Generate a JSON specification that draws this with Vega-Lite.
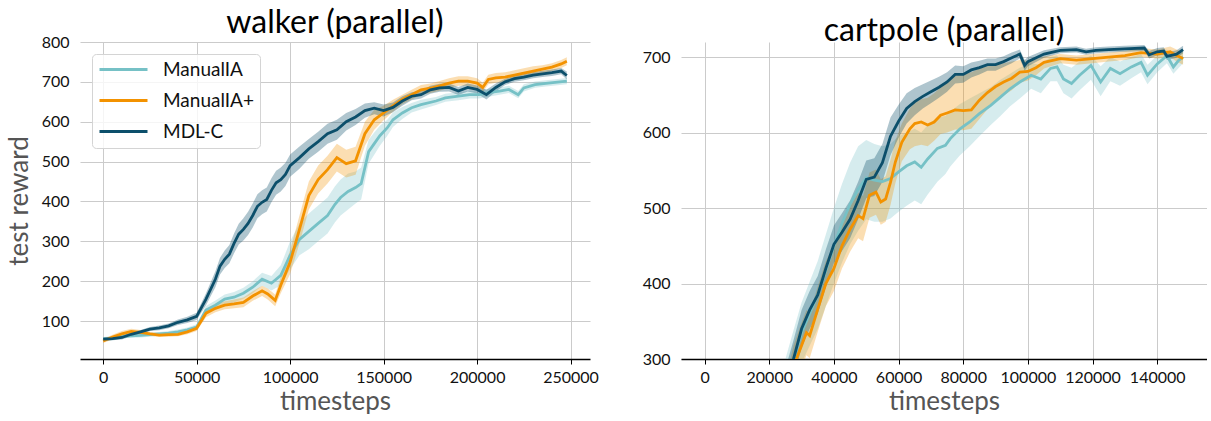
{
"$schema": "https://vega.github.io/schema/vega-lite/v6.json",
"autosize": {"type": "pad"},
"padding": {"left": 6, "top": 7, "right": 0, "bottom": 0},
"background": "white",
"config": {
  "view": {"stroke": null},
  "font": "Lato",
  "title": {"font": "Lato", "fontSize": 32, "fontWeight": "normal", "color": "#000", "baseline": "bottom", "offset": -6},
  "axis": {"labelFont": "Lato", "labelFontSize": 16, "labelColor": "#111", "titleFont": "Lato", "titleFontSize": 26, "titleFontWeight": "normal", "titleColor": "#555", "gridColor": "#cbcbcb", "gridWidth": 1},
  "axisX": {"domain": true, "domainColor": "#000", "domainWidth": 1.5, "ticks": true, "tickSize": 5, "tickColor": "#000", "labelPadding": 5, "titlePadding": 3, "labelFlush": false},
  "axisY": {"domain": false, "ticks": false, "labelPadding": 11},
  "legend": {"orient": "none", "legendX": 12, "legendY": 12, "title": null, "symbolType": "M-1,0H5", "symbolSize": 256, "symbolStrokeWidth": 3,
             "labelFont": "Lato", "labelFontSize": 19, "labelColor": "#111", "labelOffset": 46, "padding": 6, "rowPadding": 11,
             "strokeColor": "#d4d4d4", "fillColor": "rgba(255,255,255,0.8)", "cornerRadius": 4, "labelLimit": 300}
},
"datasets": {
 "walker": [
  {"s":"ManualIA","t":0,"m":55,"lo":50,"hi":60},
  {"s":"ManualIA","t":5000,"m":57,"lo":52,"hi":62},
  {"s":"ManualIA","t":10000,"m":62,"lo":57,"hi":67},
  {"s":"ManualIA","t":15000,"m":63,"lo":58,"hi":68},
  {"s":"ManualIA","t":20000,"m":64,"lo":59,"hi":69},
  {"s":"ManualIA","t":25000,"m":66,"lo":61,"hi":71},
  {"s":"ManualIA","t":30000,"m":68,"lo":63,"hi":73},
  {"s":"ManualIA","t":35000,"m":70,"lo":65,"hi":75},
  {"s":"ManualIA","t":40000,"m":73,"lo":67,"hi":79},
  {"s":"ManualIA","t":45000,"m":78,"lo":72,"hi":84},
  {"s":"ManualIA","t":50000,"m":85,"lo":78,"hi":92},
  {"s":"ManualIA","t":55000,"m":128,"lo":118,"hi":138},
  {"s":"ManualIA","t":60000,"m":140,"lo":128,"hi":152},
  {"s":"ManualIA","t":65000,"m":155,"lo":143,"hi":167},
  {"s":"ManualIA","t":70000,"m":160,"lo":147,"hi":173},
  {"s":"ManualIA","t":75000,"m":170,"lo":156,"hi":184},
  {"s":"ManualIA","t":80000,"m":185,"lo":170,"hi":200},
  {"s":"ManualIA","t":85000,"m":205,"lo":189,"hi":221},
  {"s":"ManualIA","t":90000,"m":195,"lo":177,"hi":213},
  {"s":"ManualIA","t":95000,"m":215,"lo":190,"hi":240},
  {"s":"ManualIA","t":100000,"m":265,"lo":230,"hi":300},
  {"s":"ManualIA","t":105000,"m":305,"lo":265,"hi":345},
  {"s":"ManualIA","t":110000,"m":325,"lo":280,"hi":370},
  {"s":"ManualIA","t":115000,"m":345,"lo":300,"hi":390},
  {"s":"ManualIA","t":120000,"m":365,"lo":320,"hi":410},
  {"s":"ManualIA","t":124000,"m":393,"lo":348,"hi":438},
  {"s":"ManualIA","t":127000,"m":410,"lo":365,"hi":455},
  {"s":"ManualIA","t":131000,"m":425,"lo":380,"hi":470},
  {"s":"ManualIA","t":135000,"m":435,"lo":395,"hi":475},
  {"s":"ManualIA","t":138000,"m":445,"lo":405,"hi":485},
  {"s":"ManualIA","t":142000,"m":525,"lo":495,"hi":555},
  {"s":"ManualIA","t":145000,"m":545,"lo":517,"hi":573},
  {"s":"ManualIA","t":148000,"m":565,"lo":540,"hi":590},
  {"s":"ManualIA","t":152000,"m":585,"lo":565,"hi":605},
  {"s":"ManualIA","t":155000,"m":605,"lo":587,"hi":623},
  {"s":"ManualIA","t":160000,"m":622,"lo":607,"hi":637},
  {"s":"ManualIA","t":165000,"m":635,"lo":623,"hi":647},
  {"s":"ManualIA","t":170000,"m":643,"lo":631,"hi":655},
  {"s":"ManualIA","t":178000,"m":652,"lo":642,"hi":662},
  {"s":"ManualIA","t":183000,"m":660,"lo":650,"hi":670},
  {"s":"ManualIA","t":190000,"m":664,"lo":654,"hi":674},
  {"s":"ManualIA","t":196000,"m":668,"lo":658,"hi":678},
  {"s":"ManualIA","t":201000,"m":668,"lo":658,"hi":678},
  {"s":"ManualIA","t":206000,"m":673,"lo":663,"hi":683},
  {"s":"ManualIA","t":212000,"m":677,"lo":668,"hi":686},
  {"s":"ManualIA","t":217000,"m":681,"lo":672,"hi":690},
  {"s":"ManualIA","t":222000,"m":668,"lo":659,"hi":677},
  {"s":"ManualIA","t":225000,"m":685,"lo":676,"hi":694},
  {"s":"ManualIA","t":231000,"m":693,"lo":685,"hi":701},
  {"s":"ManualIA","t":238000,"m":697,"lo":689,"hi":705},
  {"s":"ManualIA","t":248000,"m":702,"lo":694,"hi":710},
  {"s":"ManualIA+","t":0,"m":50,"lo":45,"hi":55},
  {"s":"ManualIA+","t":5000,"m":60,"lo":54,"hi":66},
  {"s":"ManualIA+","t":10000,"m":68,"lo":61,"hi":75},
  {"s":"ManualIA+","t":15000,"m":74,"lo":67,"hi":81},
  {"s":"ManualIA+","t":20000,"m":72,"lo":66,"hi":78},
  {"s":"ManualIA+","t":25000,"m":68,"lo":63,"hi":73},
  {"s":"ManualIA+","t":30000,"m":65,"lo":60,"hi":70},
  {"s":"ManualIA+","t":35000,"m":66,"lo":61,"hi":71},
  {"s":"ManualIA+","t":40000,"m":67,"lo":62,"hi":72},
  {"s":"ManualIA+","t":45000,"m":73,"lo":67,"hi":79},
  {"s":"ManualIA+","t":50000,"m":82,"lo":75,"hi":89},
  {"s":"ManualIA+","t":55000,"m":120,"lo":110,"hi":130},
  {"s":"ManualIA+","t":60000,"m":132,"lo":122,"hi":142},
  {"s":"ManualIA+","t":65000,"m":140,"lo":130,"hi":150},
  {"s":"ManualIA+","t":70000,"m":143,"lo":132,"hi":154},
  {"s":"ManualIA+","t":75000,"m":147,"lo":135,"hi":159},
  {"s":"ManualIA+","t":80000,"m":163,"lo":151,"hi":175},
  {"s":"ManualIA+","t":85000,"m":176,"lo":163,"hi":189},
  {"s":"ManualIA+","t":88000,"m":168,"lo":154,"hi":182},
  {"s":"ManualIA+","t":92000,"m":152,"lo":137,"hi":167},
  {"s":"ManualIA+","t":95000,"m":190,"lo":170,"hi":210},
  {"s":"ManualIA+","t":100000,"m":248,"lo":218,"hi":278},
  {"s":"ManualIA+","t":105000,"m":330,"lo":295,"hi":365},
  {"s":"ManualIA+","t":110000,"m":415,"lo":380,"hi":450},
  {"s":"ManualIA+","t":115000,"m":455,"lo":420,"hi":490},
  {"s":"ManualIA+","t":120000,"m":480,"lo":445,"hi":515},
  {"s":"ManualIA+","t":125000,"m":510,"lo":475,"hi":545},
  {"s":"ManualIA+","t":130000,"m":495,"lo":460,"hi":530},
  {"s":"ManualIA+","t":135000,"m":502,"lo":467,"hi":537},
  {"s":"ManualIA+","t":140000,"m":570,"lo":540,"hi":600},
  {"s":"ManualIA+","t":145000,"m":605,"lo":580,"hi":630},
  {"s":"ManualIA+","t":150000,"m":622,"lo":604,"hi":640},
  {"s":"ManualIA+","t":155000,"m":640,"lo":625,"hi":655},
  {"s":"ManualIA+","t":160000,"m":656,"lo":644,"hi":668},
  {"s":"ManualIA+","t":165000,"m":668,"lo":656,"hi":680},
  {"s":"ManualIA+","t":170000,"m":680,"lo":668,"hi":692},
  {"s":"ManualIA+","t":175000,"m":684,"lo":672,"hi":696},
  {"s":"ManualIA+","t":180000,"m":690,"lo":678,"hi":702},
  {"s":"ManualIA+","t":185000,"m":697,"lo":685,"hi":709},
  {"s":"ManualIA+","t":190000,"m":702,"lo":690,"hi":714},
  {"s":"ManualIA+","t":195000,"m":702,"lo":690,"hi":714},
  {"s":"ManualIA+","t":200000,"m":697,"lo":685,"hi":709},
  {"s":"ManualIA+","t":203000,"m":686,"lo":674,"hi":698},
  {"s":"ManualIA+","t":206000,"m":706,"lo":694,"hi":718},
  {"s":"ManualIA+","t":210000,"m":710,"lo":698,"hi":722},
  {"s":"ManualIA+","t":215000,"m":712,"lo":700,"hi":724},
  {"s":"ManualIA+","t":220000,"m":717,"lo":705,"hi":729},
  {"s":"ManualIA+","t":225000,"m":722,"lo":710,"hi":734},
  {"s":"ManualIA+","t":230000,"m":727,"lo":715,"hi":739},
  {"s":"ManualIA+","t":235000,"m":732,"lo":722,"hi":742},
  {"s":"ManualIA+","t":240000,"m":737,"lo":727,"hi":747},
  {"s":"ManualIA+","t":245000,"m":745,"lo":735,"hi":755},
  {"s":"ManualIA+","t":248000,"m":752,"lo":742,"hi":762},
  {"s":"MDL-C","t":0,"m":55,"lo":51,"hi":59},
  {"s":"MDL-C","t":5000,"m":56,"lo":52,"hi":60},
  {"s":"MDL-C","t":10000,"m":59,"lo":54,"hi":64},
  {"s":"MDL-C","t":15000,"m":67,"lo":62,"hi":72},
  {"s":"MDL-C","t":20000,"m":73,"lo":68,"hi":78},
  {"s":"MDL-C","t":25000,"m":80,"lo":75,"hi":85},
  {"s":"MDL-C","t":30000,"m":83,"lo":77,"hi":89},
  {"s":"MDL-C","t":35000,"m":88,"lo":82,"hi":94},
  {"s":"MDL-C","t":40000,"m":97,"lo":90,"hi":104},
  {"s":"MDL-C","t":45000,"m":103,"lo":95,"hi":111},
  {"s":"MDL-C","t":50000,"m":112,"lo":103,"hi":121},
  {"s":"MDL-C","t":55000,"m":155,"lo":140,"hi":170},
  {"s":"MDL-C","t":60000,"m":205,"lo":185,"hi":225},
  {"s":"MDL-C","t":62500,"m":238,"lo":217,"hi":259},
  {"s":"MDL-C","t":65000,"m":255,"lo":233,"hi":277},
  {"s":"MDL-C","t":67500,"m":268,"lo":245,"hi":291},
  {"s":"MDL-C","t":70000,"m":295,"lo":270,"hi":320},
  {"s":"MDL-C","t":72500,"m":318,"lo":292,"hi":344},
  {"s":"MDL-C","t":75000,"m":330,"lo":302,"hi":358},
  {"s":"MDL-C","t":77500,"m":345,"lo":316,"hi":374},
  {"s":"MDL-C","t":80000,"m":365,"lo":335,"hi":395},
  {"s":"MDL-C","t":82500,"m":388,"lo":358,"hi":418},
  {"s":"MDL-C","t":85000,"m":398,"lo":368,"hi":428},
  {"s":"MDL-C","t":87500,"m":405,"lo":375,"hi":435},
  {"s":"MDL-C","t":90000,"m":428,"lo":398,"hi":458},
  {"s":"MDL-C","t":92500,"m":447,"lo":417,"hi":477},
  {"s":"MDL-C","t":95000,"m":455,"lo":425,"hi":485},
  {"s":"MDL-C","t":97500,"m":468,"lo":439,"hi":497},
  {"s":"MDL-C","t":100000,"m":490,"lo":462,"hi":518},
  {"s":"MDL-C","t":105000,"m":510,"lo":482,"hi":538},
  {"s":"MDL-C","t":110000,"m":532,"lo":507,"hi":557},
  {"s":"MDL-C","t":115000,"m":550,"lo":525,"hi":575},
  {"s":"MDL-C","t":120000,"m":570,"lo":545,"hi":595},
  {"s":"MDL-C","t":125000,"m":580,"lo":555,"hi":605},
  {"s":"MDL-C","t":130000,"m":600,"lo":578,"hi":622},
  {"s":"MDL-C","t":135000,"m":612,"lo":592,"hi":632},
  {"s":"MDL-C","t":140000,"m":628,"lo":610,"hi":646},
  {"s":"MDL-C","t":145000,"m":634,"lo":619,"hi":649},
  {"s":"MDL-C","t":150000,"m":628,"lo":613,"hi":643},
  {"s":"MDL-C","t":155000,"m":636,"lo":624,"hi":648},
  {"s":"MDL-C","t":160000,"m":652,"lo":640,"hi":664},
  {"s":"MDL-C","t":165000,"m":664,"lo":654,"hi":674},
  {"s":"MDL-C","t":170000,"m":668,"lo":658,"hi":678},
  {"s":"MDL-C","t":175000,"m":680,"lo":670,"hi":690},
  {"s":"MDL-C","t":180000,"m":685,"lo":675,"hi":695},
  {"s":"MDL-C","t":185000,"m":686,"lo":676,"hi":696},
  {"s":"MDL-C","t":190000,"m":677,"lo":667,"hi":687},
  {"s":"MDL-C","t":195000,"m":686,"lo":676,"hi":696},
  {"s":"MDL-C","t":200000,"m":681,"lo":671,"hi":691},
  {"s":"MDL-C","t":205000,"m":668,"lo":656,"hi":680},
  {"s":"MDL-C","t":210000,"m":686,"lo":676,"hi":696},
  {"s":"MDL-C","t":215000,"m":700,"lo":692,"hi":708},
  {"s":"MDL-C","t":220000,"m":708,"lo":700,"hi":716},
  {"s":"MDL-C","t":225000,"m":712,"lo":704,"hi":720},
  {"s":"MDL-C","t":230000,"m":717,"lo":709,"hi":725},
  {"s":"MDL-C","t":235000,"m":720,"lo":712,"hi":728},
  {"s":"MDL-C","t":240000,"m":723,"lo":715,"hi":731},
  {"s":"MDL-C","t":245000,"m":727,"lo":719,"hi":735},
  {"s":"MDL-C","t":248000,"m":716,"lo":706,"hi":726}
 ],
 "cartpole": [
  {"s":"ManualIA","t":0,"m":15,"lo":0,"hi":30},
  {"s":"ManualIA","t":10000,"m":85,"lo":60,"hi":110},
  {"s":"ManualIA","t":20000,"m":190,"lo":160,"hi":220},
  {"s":"ManualIA","t":25000,"m":262,"lo":225,"hi":300},
  {"s":"ManualIA","t":27500,"m":298,"lo":258,"hi":338},
  {"s":"ManualIA","t":30000,"m":335,"lo":295,"hi":375},
  {"s":"ManualIA","t":35000,"m":385,"lo":340,"hi":430},
  {"s":"ManualIA","t":40000,"m":450,"lo":400,"hi":500},
  {"s":"ManualIA","t":42500,"m":480,"lo":428,"hi":532},
  {"s":"ManualIA","t":45000,"m":505,"lo":452,"hi":560},
  {"s":"ManualIA","t":47500,"m":525,"lo":470,"hi":582},
  {"s":"ManualIA","t":50000,"m":540,"lo":485,"hi":590},
  {"s":"ManualIA","t":52500,"m":537,"lo":482,"hi":585},
  {"s":"ManualIA","t":55000,"m":535,"lo":482,"hi":582},
  {"s":"ManualIA","t":57500,"m":539,"lo":486,"hi":585},
  {"s":"ManualIA","t":60000,"m":548,"lo":495,"hi":595},
  {"s":"ManualIA","t":62500,"m":556,"lo":503,"hi":600},
  {"s":"ManualIA","t":65000,"m":561,"lo":510,"hi":605},
  {"s":"ManualIA","t":67000,"m":554,"lo":505,"hi":600},
  {"s":"ManualIA","t":69000,"m":565,"lo":518,"hi":610},
  {"s":"ManualIA","t":72000,"m":579,"lo":535,"hi":620},
  {"s":"ManualIA","t":74500,"m":583,"lo":545,"hi":622},
  {"s":"ManualIA","t":76000,"m":592,"lo":555,"hi":628},
  {"s":"ManualIA","t":79000,"m":605,"lo":570,"hi":638},
  {"s":"ManualIA","t":82000,"m":614,"lo":582,"hi":645},
  {"s":"ManualIA","t":85000,"m":625,"lo":595,"hi":652},
  {"s":"ManualIA","t":88500,"m":636,"lo":610,"hi":660},
  {"s":"ManualIA","t":91500,"m":647,"lo":622,"hi":670},
  {"s":"ManualIA","t":94500,"m":658,"lo":635,"hi":678},
  {"s":"ManualIA","t":97500,"m":667,"lo":645,"hi":686},
  {"s":"ManualIA","t":101000,"m":676,"lo":658,"hi":692},
  {"s":"ManualIA","t":104000,"m":671,"lo":652,"hi":690},
  {"s":"ManualIA","t":107000,"m":685,"lo":668,"hi":700},
  {"s":"ManualIA","t":109000,"m":687,"lo":668,"hi":702},
  {"s":"ManualIA","t":111000,"m":671,"lo":652,"hi":690},
  {"s":"ManualIA","t":113500,"m":665,"lo":645,"hi":686},
  {"s":"ManualIA","t":116000,"m":676,"lo":656,"hi":694},
  {"s":"ManualIA","t":119500,"m":689,"lo":670,"hi":702},
  {"s":"ManualIA","t":122500,"m":667,"lo":648,"hi":688},
  {"s":"ManualIA","t":125500,"m":685,"lo":668,"hi":700},
  {"s":"ManualIA","t":128500,"m":678,"lo":662,"hi":694},
  {"s":"ManualIA","t":132000,"m":687,"lo":672,"hi":700},
  {"s":"ManualIA","t":135000,"m":693,"lo":680,"hi":704},
  {"s":"ManualIA","t":137000,"m":676,"lo":664,"hi":690},
  {"s":"ManualIA","t":140000,"m":691,"lo":680,"hi":702},
  {"s":"ManualIA","t":143000,"m":702,"lo":692,"hi":710},
  {"s":"ManualIA","t":145000,"m":687,"lo":678,"hi":698},
  {"s":"ManualIA","t":146700,"m":696,"lo":686,"hi":704},
  {"s":"ManualIA","t":148000,"m":700,"lo":692,"hi":708},
  {"s":"ManualIA+","t":0,"m":10,"lo":0,"hi":20},
  {"s":"ManualIA+","t":10000,"m":70,"lo":55,"hi":85},
  {"s":"ManualIA+","t":20000,"m":170,"lo":150,"hi":190},
  {"s":"ManualIA+","t":25000,"m":245,"lo":220,"hi":270},
  {"s":"ManualIA+","t":27500,"m":290,"lo":262,"hi":318},
  {"s":"ManualIA+","t":30000,"m":318,"lo":288,"hi":348},
  {"s":"ManualIA+","t":31500,"m":335,"lo":305,"hi":365},
  {"s":"ManualIA+","t":32500,"m":331,"lo":301,"hi":361},
  {"s":"ManualIA+","t":35000,"m":366,"lo":336,"hi":396},
  {"s":"ManualIA+","t":37500,"m":400,"lo":370,"hi":430},
  {"s":"ManualIA+","t":40000,"m":420,"lo":390,"hi":450},
  {"s":"ManualIA+","t":42500,"m":450,"lo":420,"hi":480},
  {"s":"ManualIA+","t":45000,"m":472,"lo":442,"hi":502},
  {"s":"ManualIA+","t":47500,"m":490,"lo":460,"hi":520},
  {"s":"ManualIA+","t":49000,"m":486,"lo":456,"hi":516},
  {"s":"ManualIA+","t":51000,"m":517,"lo":487,"hi":547},
  {"s":"ManualIA+","t":53000,"m":521,"lo":491,"hi":551},
  {"s":"ManualIA+","t":54500,"m":508,"lo":478,"hi":538},
  {"s":"ManualIA+","t":56000,"m":512,"lo":482,"hi":542},
  {"s":"ManualIA+","t":57500,"m":534,"lo":504,"hi":564},
  {"s":"ManualIA+","t":59000,"m":561,"lo":533,"hi":589},
  {"s":"ManualIA+","t":61000,"m":587,"lo":562,"hi":612},
  {"s":"ManualIA+","t":63500,"m":605,"lo":578,"hi":632},
  {"s":"ManualIA+","t":65000,"m":612,"lo":582,"hi":640},
  {"s":"ManualIA+","t":67000,"m":614,"lo":584,"hi":644},
  {"s":"ManualIA+","t":69000,"m":610,"lo":582,"hi":646},
  {"s":"ManualIA+","t":71000,"m":614,"lo":589,"hi":652},
  {"s":"ManualIA+","t":73000,"m":623,"lo":598,"hi":660},
  {"s":"ManualIA+","t":75000,"m":626,"lo":600,"hi":668},
  {"s":"ManualIA+","t":77500,"m":630,"lo":604,"hi":675},
  {"s":"ManualIA+","t":80000,"m":629,"lo":603,"hi":678},
  {"s":"ManualIA+","t":82500,"m":630,"lo":605,"hi":680},
  {"s":"ManualIA+","t":85000,"m":643,"lo":618,"hi":685},
  {"s":"ManualIA+","t":87500,"m":653,"lo":631,"hi":688},
  {"s":"ManualIA+","t":90000,"m":661,"lo":641,"hi":690},
  {"s":"ManualIA+","t":92500,"m":667,"lo":649,"hi":692},
  {"s":"ManualIA+","t":95000,"m":672,"lo":656,"hi":694},
  {"s":"ManualIA+","t":97500,"m":680,"lo":666,"hi":696},
  {"s":"ManualIA+","t":100000,"m":681,"lo":669,"hi":695},
  {"s":"ManualIA+","t":102500,"m":686,"lo":676,"hi":697},
  {"s":"ManualIA+","t":105000,"m":693,"lo":685,"hi":701},
  {"s":"ManualIA+","t":110000,"m":698,"lo":692,"hi":704},
  {"s":"ManualIA+","t":115000,"m":696,"lo":690,"hi":702},
  {"s":"ManualIA+","t":120000,"m":698,"lo":692,"hi":704},
  {"s":"ManualIA+","t":125000,"m":700,"lo":694,"hi":706},
  {"s":"ManualIA+","t":130000,"m":702,"lo":696,"hi":708},
  {"s":"ManualIA+","t":135000,"m":706,"lo":700,"hi":712},
  {"s":"ManualIA+","t":140000,"m":704,"lo":698,"hi":710},
  {"s":"ManualIA+","t":144000,"m":707,"lo":700,"hi":714},
  {"s":"ManualIA+","t":146000,"m":702,"lo":694,"hi":710},
  {"s":"ManualIA+","t":148000,"m":698,"lo":690,"hi":706},
  {"s":"MDL-C","t":0,"m":20,"lo":10,"hi":30},
  {"s":"MDL-C","t":10000,"m":90,"lo":75,"hi":105},
  {"s":"MDL-C","t":20000,"m":190,"lo":170,"hi":210},
  {"s":"MDL-C","t":25000,"m":262,"lo":237,"hi":287},
  {"s":"MDL-C","t":27500,"m":300,"lo":275,"hi":325},
  {"s":"MDL-C","t":30000,"m":340,"lo":315,"hi":365},
  {"s":"MDL-C","t":32500,"m":365,"lo":340,"hi":390},
  {"s":"MDL-C","t":35000,"m":385,"lo":360,"hi":410},
  {"s":"MDL-C","t":37500,"m":420,"lo":395,"hi":445},
  {"s":"MDL-C","t":40000,"m":452,"lo":427,"hi":477},
  {"s":"MDL-C","t":42500,"m":468,"lo":443,"hi":493},
  {"s":"MDL-C","t":45000,"m":485,"lo":460,"hi":510},
  {"s":"MDL-C","t":47500,"m":510,"lo":485,"hi":535},
  {"s":"MDL-C","t":50000,"m":538,"lo":513,"hi":563},
  {"s":"MDL-C","t":52500,"m":541,"lo":516,"hi":566},
  {"s":"MDL-C","t":55000,"m":560,"lo":535,"hi":585},
  {"s":"MDL-C","t":57500,"m":595,"lo":570,"hi":620},
  {"s":"MDL-C","t":60000,"m":615,"lo":593,"hi":637},
  {"s":"MDL-C","t":62500,"m":632,"lo":612,"hi":652},
  {"s":"MDL-C","t":65000,"m":641,"lo":623,"hi":659},
  {"s":"MDL-C","t":67500,"m":648,"lo":632,"hi":664},
  {"s":"MDL-C","t":70000,"m":654,"lo":639,"hi":669},
  {"s":"MDL-C","t":72500,"m":660,"lo":646,"hi":674},
  {"s":"MDL-C","t":75000,"m":667,"lo":654,"hi":680},
  {"s":"MDL-C","t":77500,"m":677,"lo":665,"hi":689},
  {"s":"MDL-C","t":80000,"m":677,"lo":666,"hi":688},
  {"s":"MDL-C","t":82500,"m":683,"lo":673,"hi":693},
  {"s":"MDL-C","t":85000,"m":686,"lo":677,"hi":695},
  {"s":"MDL-C","t":87500,"m":690,"lo":682,"hi":698},
  {"s":"MDL-C","t":90000,"m":690,"lo":682,"hi":698},
  {"s":"MDL-C","t":92500,"m":694,"lo":687,"hi":701},
  {"s":"MDL-C","t":95000,"m":699,"lo":692,"hi":706},
  {"s":"MDL-C","t":97500,"m":704,"lo":698,"hi":710},
  {"s":"MDL-C","t":99000,"m":689,"lo":682,"hi":696},
  {"s":"MDL-C","t":100000,"m":694,"lo":688,"hi":700},
  {"s":"MDL-C","t":105000,"m":704,"lo":699,"hi":709},
  {"s":"MDL-C","t":110000,"m":709,"lo":705,"hi":713},
  {"s":"MDL-C","t":115000,"m":710,"lo":706,"hi":714},
  {"s":"MDL-C","t":118000,"m":707,"lo":703,"hi":711},
  {"s":"MDL-C","t":121000,"m":709,"lo":705,"hi":713},
  {"s":"MDL-C","t":125000,"m":710,"lo":706,"hi":714},
  {"s":"MDL-C","t":130000,"m":711,"lo":707,"hi":715},
  {"s":"MDL-C","t":136000,"m":712,"lo":708,"hi":716},
  {"s":"MDL-C","t":137500,"m":703,"lo":698,"hi":708},
  {"s":"MDL-C","t":140000,"m":707,"lo":702,"hi":712},
  {"s":"MDL-C","t":142000,"m":708,"lo":703,"hi":713},
  {"s":"MDL-C","t":143000,"m":701,"lo":696,"hi":706},
  {"s":"MDL-C","t":146000,"m":704,"lo":699,"hi":709},
  {"s":"MDL-C","t":148000,"m":710,"lo":705,"hi":715}
 ]
},
"spacing": 91,
"bounds": "flush",
"resolve": {"scale": {"x": "independent", "y": "independent", "stroke": "independent"}, "legend": {"stroke": "independent"}},
"hconcat": [
 {
  "width": 510, "height": 317,
  "title": {"text": "walker (parallel)"},
  "data": {"name": "walker"},
  "encoding": {
   "x": {"field": "t", "type": "quantitative", "scale": {"domain": [-12400, 260400], "nice": false, "zero": false},
         "axis": {"title": "timesteps", "values": [0, 50000, 100000, 150000, 200000, 250000], "format": "d"}}
  },
  "layer": [
   {
    "transform": [{"filter": "datum.s === 'ManualIA'"}],
    "mark": {"type": "area", "opacity": 0.3, "clip": true, "color": "#76c1c6"},
    "encoding": {
     "y": {"field": "lo", "type": "quantitative", "scale": {"domain": [5, 800], "nice": false, "zero": false},
           "axis": {"title": "test reward", "values": [100, 200, 300, 400, 500, 600, 700, 800], "titleX": -53, "titleBaseline": "alphabetic", "titleAngle": -90}},
     "y2": {"field": "hi"}
    }
   },
   {
    "transform": [{"filter": "datum.s === 'ManualIA+'"}],
    "mark": {"type": "area", "opacity": 0.3, "clip": true, "color": "#f39200"},
    "encoding": {"y": {"field": "lo", "type": "quantitative"}, "y2": {"field": "hi"}}
   },
   {
    "transform": [{"filter": "datum.s === 'MDL-C'"}],
    "mark": {"type": "area", "opacity": 0.33, "clip": true, "color": "#0c4f6b"},
    "encoding": {"y": {"field": "lo", "type": "quantitative"}, "y2": {"field": "hi"}}
   },
   {
    "mark": {"type": "line", "strokeWidth": 2.8, "clip": true},
    "encoding": {
     "y": {"field": "m", "type": "quantitative"},
     "stroke": {"field": "s", "type": "nominal", "scale": {"domain": ["ManualIA", "ManualIA+", "MDL-C"], "range": ["#76c1c6", "#f39200", "#0c4f6b"]}}
    }
   }
  ]
 },
 {
  "width": 526, "height": 317,
  "title": {"text": "cartpole (parallel)"},
  "data": {"name": "cartpole"},
  "encoding": {
   "x": {"field": "t", "type": "quantitative", "scale": {"domain": [-7300, 155400], "nice": false, "zero": false},
         "axis": {"title": "timesteps", "values": [0, 20000, 40000, 60000, 80000, 100000, 120000, 140000], "format": "d"}}
  },
  "layer": [
   {
    "transform": [{"filter": "datum.s === 'ManualIA'"}],
    "mark": {"type": "area", "opacity": 0.3, "clip": true, "color": "#76c1c6"},
    "encoding": {
     "y": {"field": "lo", "type": "quantitative", "scale": {"domain": [300, 720], "nice": false, "zero": false},
           "axis": {"title": null, "values": [300, 400, 500, 600, 700]}},
     "y2": {"field": "hi"}
    }
   },
   {
    "transform": [{"filter": "datum.s === 'ManualIA+'"}],
    "mark": {"type": "area", "opacity": 0.3, "clip": true, "color": "#f39200"},
    "encoding": {"y": {"field": "lo", "type": "quantitative"}, "y2": {"field": "hi"}}
   },
   {
    "transform": [{"filter": "datum.s === 'MDL-C'"}],
    "mark": {"type": "area", "opacity": 0.33, "clip": true, "color": "#0c4f6b"},
    "encoding": {"y": {"field": "lo", "type": "quantitative"}, "y2": {"field": "hi"}}
   },
   {
    "mark": {"type": "line", "strokeWidth": 2.8, "clip": true},
    "encoding": {
     "y": {"field": "m", "type": "quantitative"},
     "stroke": {"field": "s", "type": "nominal", "scale": {"domain": ["ManualIA", "ManualIA+", "MDL-C"], "range": ["#76c1c6", "#f39200", "#0c4f6b"]}, "legend": null}
    }
   }
  ]
 }
]
}
